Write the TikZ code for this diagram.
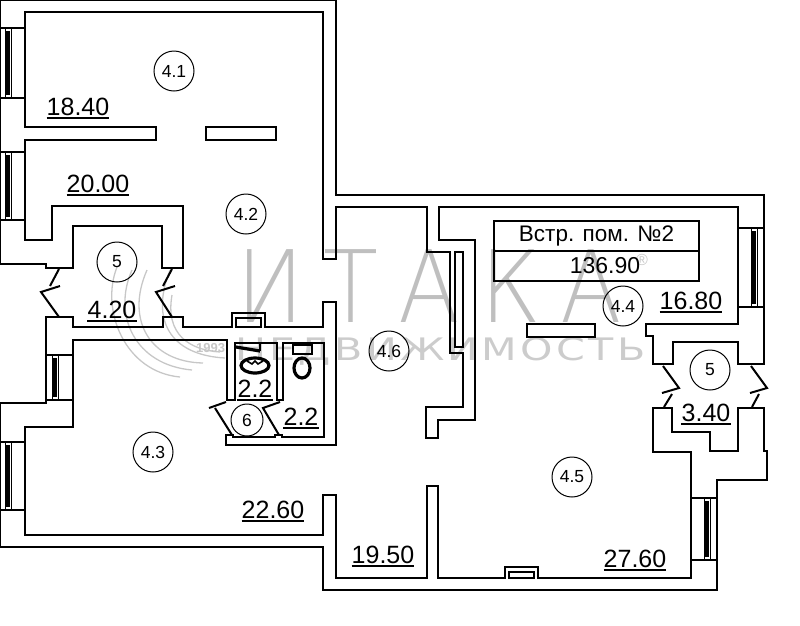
\documentclass[tikz,border=0pt]{standalone}
\usepackage{fontspec}
\setmainfont{Liberation Sans}
\newfontfamily\markfont[LetterSpace=22]{DejaVu Sans ExtraLight}
\newfontfamily\marksmall[LetterSpace=8]{DejaVu Sans}
\tikzstyle{wall}=[draw=black,line width=2.7pt,line join=miter]
\tikzstyle{leaf}=[draw=black,line width=2pt]
\tikzstyle{fixture}=[draw=black,line width=3.2pt]
\tikzstyle{glass}=[draw=black,line width=3.6pt]
\tikzstyle{frame}=[draw=black,line width=0.7pt]
\tikzstyle{roomtag}=[circle,draw=black,line width=1pt,minimum size=40pt,inner sep=0pt,font=\fontsize{17.5}{17.5}\selectfont]
\tikzstyle{area}=[anchor=base,inner sep=0pt,font=\fontsize{25}{25}\selectfont]
\tikzstyle{underl}=[draw=black,line width=1.1pt]
\tikzstyle{plate}=[draw=black,line width=2.4pt,minimum width=205pt,minimum height=30pt,inner sep=0pt]
\tikzstyle{wmark}=[draw=black!22,line width=1.3pt]

\begin{document}
\begin{tikzpicture}[x=1pt,y=-1pt]
    \useasboundingbox (0,0) rectangle (800,625);

    % watermark
    \node[anchor=base west,inner sep=0pt,text=black!25,transform shape,xscale=.9,font=\fontsize{100}{100}\markfont] (markname) at (236,322) {ИТАКА};
    \node[anchor=base west,inner sep=0pt,text=black!22,font=\fontsize{16}{16}\selectfont] (markreg) at (636,265) {®};
    \node[anchor=base west,inner sep=0pt,text=black!20,transform shape,xscale=1.33,font=\fontsize{31}{31}\marksmall] (marksub) at (235,360) {НЕДВИЖИМОСТЬ};
    \node[anchor=base west,inner sep=0pt,text=black!22,font=\fontsize{13}{13}\selectfont\bfseries] (markyear) at (196,352) {1993};
    \foreach \a/\b/\c/\d in {{(117,267)/(100,310)/(125,372)/(180,377)}, {(132,270)/(112,315)/(135,365)/(192,370)}, {(147,270)/(125,320)/(150,362)/(203,363)}, {(170,270)/(150,320)/(170,355)/(225,358)}, {(172,295)/(165,335)/(190,350)/(220,352)}}
        \draw[wmark] \a .. controls \b and \c .. \d;

    % walls
    \path[wall] (0,264) -- (46,264) -- (46,268) -- (73,268) -- (73,226) -- (162,226) -- (162,268) -- (183,268) -- (183,206) -- (52,206) -- (52,240) -- (25,240) -- (25,140) -- (156,140) -- (156,127) -- (25,127) -- (25,12) -- (323,12) -- (323,259) -- (336,259) -- (336,207) -- (427,207) -- (427,252) -- (450,252) -- (450,353) -- (463,353) -- (463,407) -- (426,407) -- (426,438) -- (438,438) -- (438,420) -- (475,420) -- (475,240) -- (439,240) -- (439,207) -- (738,207) -- (738,324) -- (646,324) -- (646,336) -- (653,336) -- (653,364) -- (673,364) -- (673,342) -- (738,342) -- (738,364) -- (764,364) -- (764,195) -- (336,195) -- (336,0) -- (0,0) -- cycle;
    \path[wall] (46,317) -- (73,317) -- (73,327) -- (163,327) -- (163,317) -- (183,317) -- (183,327) -- (232,327) -- (232,313) -- (265,313) -- (265,327) -- (323,327) -- (323,302) -- (336,302) -- (336,445) -- (226,445) -- (226,435) -- (233,435) -- (233,437) -- (275,437) -- (275,435) -- (282,435) -- (282,437) -- (324,437) -- (324,343) -- (283,343) -- (283,400) -- (277,400) -- (277,343) -- (235,343) -- (235,400) -- (227,400) -- (227,340) -- (73,340) -- (73,427) -- (25,427) -- (25,535) -- (323,535) -- (323,495) -- (336,495) -- (336,578) -- (427,578) -- (427,486) -- (438,486) -- (438,578) -- (505,578) -- (505,567) -- (538,567) -- (538,578) -- (691,578) -- (691,452) -- (653,452) -- (653,408) -- (672,408) -- (672,432) -- (710,432) -- (710,451) -- (738,451) -- (738,408) -- (764,408) -- (764,451) -- (767,451) -- (767,480) -- (717,480) -- (717,590) -- (323,590) -- (323,547) -- (0,547) -- (0,403) -- (46,403) -- cycle;

    % piers and niches
    \foreach \a/\b in {{(206,127)/(276,140)}, {(527,324)/(595,337)}, {(455,252)/(463,347)}, {(236,318)/(261,327)}, {(509,572)/(534,578)}}
        \path[wall] \a rectangle \b;

    % windows
    \foreach \xa/\xb/\xg/\ya/\yb in {0/25/8/28/98, 0/25/8/152/220, 46/73/55/355/400, 0/25/8/442/510, 691/717/707/498/560, 738/764/754/228/307}{
        \path[wall,line width=2pt] (\xa,\ya) -- (\xb,\ya) (\xa,\yb) -- (\xb,\yb);
        \path[frame] (\xg-3,\ya) rectangle (\xg+3,\yb);
        \path[glass] (\xg,\ya+3) -- (\xg,\yb-3);
    }

    % doors
    \path[leaf] (59,269) -- (50,286) (60,286) -- (41,292) -- (59,317);
    \path[leaf] (172,269) -- (163,286) (175,286) -- (156,292) -- (172,317);
    \path[leaf] (663,366) -- (679,388) -- (662,393) (672,394) -- (664,407);
    \path[leaf] (751,366) -- (767,388) -- (750,393) (759,394) -- (752,407);
    \path[leaf] (226,402) -- (209,408) (215,408) -- (232,435);
    \path[leaf] (280,402) -- (263,408) -- (279,435);

    % fixtures
    \path[fixture] (255,365.5) ellipse (14pt and 7.5pt);
    \path[fixture,line width=1.6pt] (247,361) -- (252,364) -- (255,361) -- (258,364) -- (263,361);
    \path[fixture] (236,347) -- (260,351);
    \path[fixture,line width=1.6pt] (260,343) -- (260,351);
    \path[fixture] (302,368) ellipse (8pt and 10pt);
    \path[fixture,line width=1.6pt] (293,345) rectangle (312,354);

    % room tags
    \foreach \pos/\name/\label in {{(174,71)/ra/4.1}, {(246,214)/rb/4.2}, {(117,262)/rc/5}, {(153,452)/rd/4.3}, {(389,351)/re/4.6}, {(623,306)/rf/4.4}, {(710,370)/rg/5}, {(572,477)/rh/4.5}}
        \node[roomtag,fill=none] (\name) at \pos {\label};
    \node[roomtag,minimum size=32pt] (ri) at (247,420) {6};

    % areas
    \foreach \pos/\name/\label in {{(78,115)/aa/18.40}, {(98,192)/ab/20.00}, {(112,318)/ac/4.20}, {(255,397)/ad/2.2}, {(301,425)/ae/2.2}, {(273,518)/af/22.60}, {(383,563)/ag/19.50}, {(635,567)/ah/27.60}, {(706,421)/ai/3.40}, {(691,309)/aj/16.80}}{
        \node[area] (\name) at \pos {\label};
        \path[underl] ([yshift=-3pt]\name.base west) -- ([yshift=-3pt]\name.base east);
    }

    % plate
    \node[plate,font=\fontsize{22.5}{22.5}\selectfont] (platetop) at (596.5,236) {Встр. пом. №2};
    \node[plate,font=\fontsize{23}{23}\selectfont] (platebot) at (596.5,266) {\hspace*{17pt}136.90};
\end{tikzpicture}
\end{document}
